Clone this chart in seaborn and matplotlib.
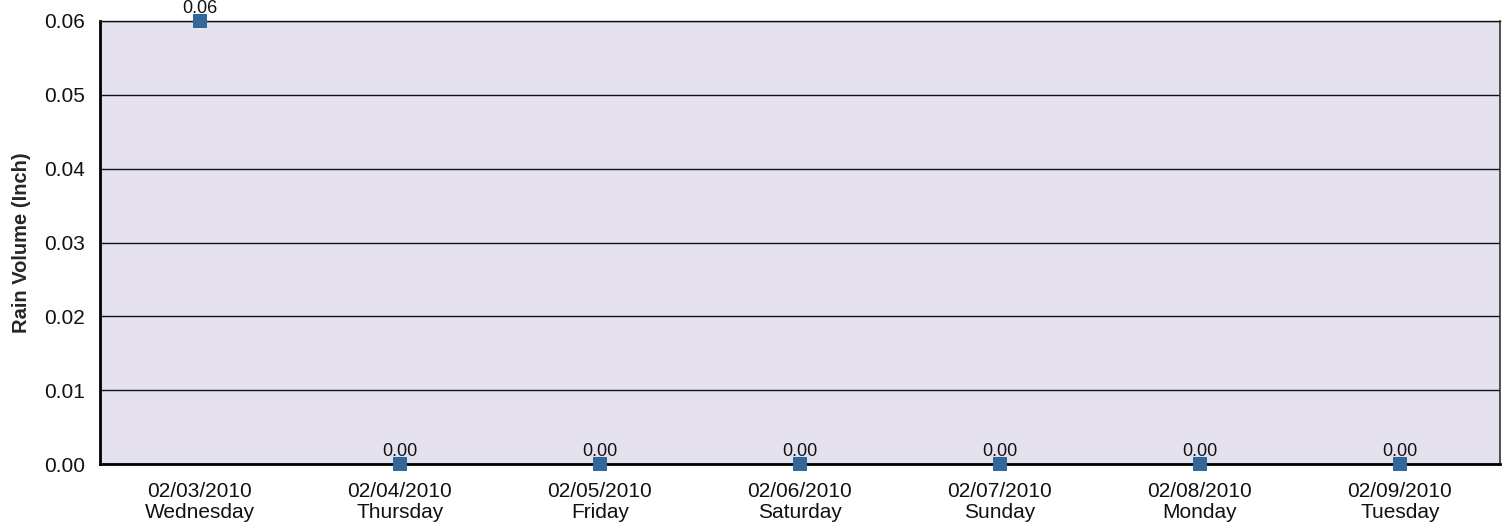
import numpy as np
import pandas as pd
import matplotlib
matplotlib.use("Agg")
import matplotlib.pyplot as plt
import seaborn as sns

# data
dates = ["02/03/2010", "02/04/2010", "02/05/2010", "02/06/2010",
         "02/07/2010", "02/08/2010", "02/09/2010"]
weekdays = ["Wednesday", "Thursday", "Friday", "Saturday",
            "Sunday", "Monday", "Tuesday"]
rain = [0.06, 0.00, 0.00, 0.00, 0.00, 0.00, 0.00]

df = pd.DataFrame({"day": [d + "\n" + w for d, w in zip(dates, weekdays)],
                   "rain": rain})

sns.set_style("white")
plt.rcParams['font.family'] = ['Liberation Sans', 'DejaVu Sans']

fig = plt.figure(figsize=(15.08, 5.29), dpi=100)
ax = fig.add_axes([100 / 1508, 65 / 529, 1400 / 1508, 443 / 529])
ax.set_facecolor("#e6e1ee")

sns.scatterplot(data=df, x="day", y="rain", marker="s", s=95,
                color="#336699", edgecolor="none", ax=ax, zorder=3,
                clip_on=False)

# value labels
for i, v in enumerate(df["rain"]):
    ax.text(i, v + 0.0006, f"{v:.2f}", ha="center", va="bottom",
            fontsize=13, color="#111111", zorder=4)

ax.set_xlim(-0.5, len(df) - 0.5)
ax.set_ylim(0, 0.06)
ax.set_yticks(np.arange(0, 0.061, 0.01))
ax.set_yticklabels([f"{t:.2f}" for t in np.arange(0, 0.061, 0.01)])
ax.yaxis.grid(True, color="#111111", linewidth=1)
ax.xaxis.grid(False)
ax.set_axisbelow(True)

ax.tick_params(axis="both", labelsize=15, colors="#111111", length=0)
ax.tick_params(axis="x", pad=13)
ax.tick_params(axis="y", pad=11)
for lbl in ax.get_xticklabels():
    lbl.set_linespacing(1.1)
ax.set_xlabel("")
ax.set_ylabel("Rain Volume (Inch)", fontsize=14.5, fontweight="bold",
              labelpad=9)

for side in ["left", "bottom"]:
    ax.spines[side].set_color("#000000")
    ax.spines[side].set_linewidth(2)
ax.spines["right"].set_color("#333333")
ax.spines["right"].set_linewidth(1.2)
ax.spines["top"].set_color("#111111")
ax.spines["top"].set_linewidth(1)

fig.savefig("out.png", dpi=100)
